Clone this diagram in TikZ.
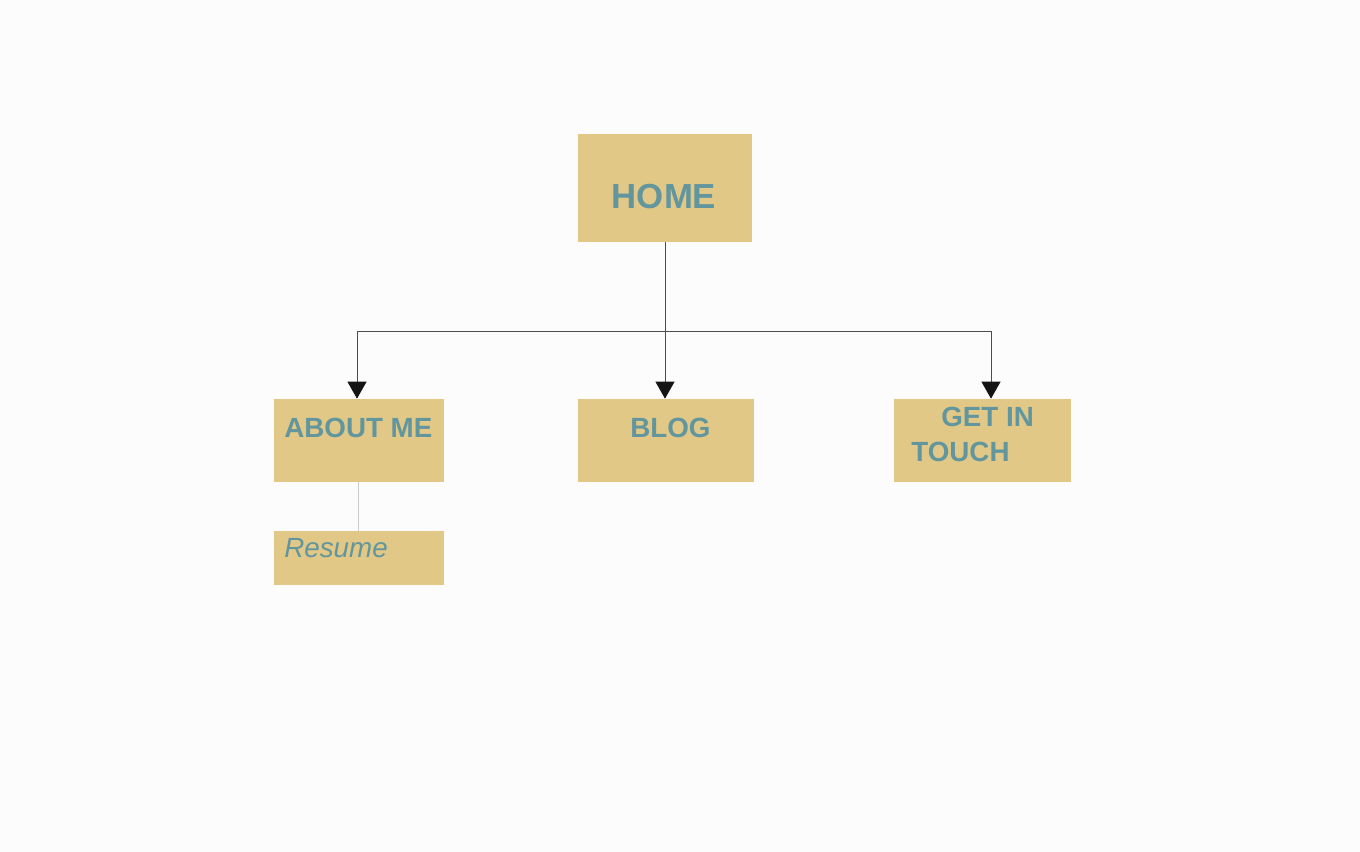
\documentclass[tikz,border=0pt]{standalone}
\usepackage{fontspec}
\setmainfont{Liberation Sans}
\usepackage[]{xcolor}
\usepackage[]{tikz}
\usetikzlibrary{positioning,arrows.meta}
\definecolor{sand}{HTML}{E2C886}
\definecolor{teal}{HTML}{62969E}
\tikzset{page/.style={draw=none,fill=sand,inner sep=0pt},
         caption/.style={anchor=base west,inner sep=0pt,text=teal,font=\bfseries\fontsize{15.8}{18}\selectfont},
         link/.style={draw=black!70,line width=0.55pt},
         down/.style={link,-{Triangle[length=0.34cm,width=0.38cm,color=black!92]}}}

\begin{document}
\begin{tikzpicture}[x=0.02cm,y=-0.02cm] % 像素坐标, y向下
        \fill[white!99!black] (0,0) rectangle (1360,852);
        \useasboundingbox (0,0) rectangle (1360,852);
        % 方框
        \node[page,minimum width=3.48cm,minimum height=2.16cm] (home) at (665,188) {};
        \node[page,minimum width=3.40cm,minimum height=1.66cm] (about) at (359,440.5) {};
        \node[page,minimum width=3.52cm,minimum height=1.66cm] (blog) at (666,440.5) {};
        \node[page,minimum width=3.54cm,minimum height=1.66cm] (touch) at (982.5,440.5) {};
        \node[page,minimum width=3.40cm,minimum height=1.08cm] (resume) at (359,558) {};
        % 文字
        \node[caption,anchor=base,font=\bfseries\fontsize{19.8}{22}\selectfont] (homet) at (664,208.5) {HOME};
        \node[caption] (aboutt) at (284,437) {ABOUT ME};
        \node[caption] (blogt) at (630,437) {BLOG};
        \node[caption] (gett) at (941,426) {GET IN};
        \node[caption] (toucht) at (911,461) {TOUCH};
        \node[caption,font=\itshape\fontsize{15.8}{18}\selectfont] (resumet) at (284,557) {Resume};
        % 连线
        \coordinate (split) at (665,331);
        \coordinate (lsplit) at (357,331);
        \coordinate (rsplit) at (991,331);
        \coordinate (sub) at (358,500);
        \draw[link] (home.south) -- (split);
        \draw[link] (lsplit) -- (rsplit);
        \draw[down] (split) -- (split |- blog.north);
        \draw[down] (lsplit) -- (lsplit |- about.north);
        \draw[down] (rsplit) -- (rsplit |- touch.north);
        \draw[draw=black!20,line width=0.55pt] (sub |- about.south) -- (sub |- resume.north);
        \end{tikzpicture}
\end{document}
